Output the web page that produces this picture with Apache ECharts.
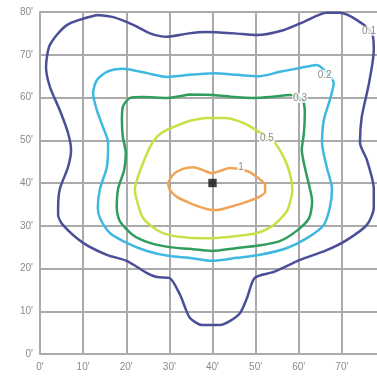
<!DOCTYPE html>
<html><head><meta charset="utf-8">
<script src="https://cdn.jsdelivr.net/npm/echarts@6/dist/echarts.min.js"></script>
<style>html,body{margin:0;padding:0;background:#fff}#c{width:377px;height:378px}</style>
</head><body><div id="c"></div>
<script>
const axisTicks = [0,10,20,30,40,50,60,70,80];
const levelNames = ['0.1','0.2','0.3','0.5','1'];
const levelColors = ['#4b4f97','#3fb8e2','#2e9d5e','#c8df48','#f0a458'];
const c01 = [[13.2,79.3],[17,78.8],[21.6,77],[25.5,75],[29.4,74.2],[34.5,75],[38.7,75.3],[45,75],[50.3,74.6],[56.6,75.8],[61.2,77.7],[66.5,79.8],[69.5,79.8],[73.5,78.1],[77,75],[77.4,71.1],[76.3,63.4],[74.6,55.4],[74.2,49.4],[75.8,45.4],[77.4,38.6],[77.4,34.2],[75.8,30.2],[71.2,26.7],[66.5,24.3],[60.3,22],[54.2,19.2],[49.8,17.8],[48,13.1],[46.4,9.6],[44,7.7],[41.7,6.8],[37.5,6.8],[34.8,8.4],[33.6,11],[32.5,13.8],[30,17.8],[27.1,18],[24.7,19],[20.1,21.8],[15.5,23.2],[10,26],[5.3,30.2],[4.2,32.5],[4.2,34.2],[4.6,38.6],[6.5,43.7],[7.2,47.7],[6.5,51.7],[4.6,57],[2.3,62.5],[1.4,67.1],[2.3,72.3],[6.3,77],[13.2,79.3]];
const c02 = [[34.5,65.3],[40.3,65.7],[45.7,65.3],[51,65],[55.6,66],[60.3,66.9],[64.2,67.6],[66.5,65.8],[68.1,63.4],[67.2,59.4],[65.8,54.7],[65.4,49.4],[66.5,43.7],[67.7,38.6],[67.2,34.2],[65.8,30.2],[61.9,27.1],[57.3,24.8],[51,23.2],[45.7,22.5],[39.9,21.8],[34.5,22.5],[30,22.9],[24.8,24.1],[20.1,26],[16.2,28.3],[13.9,31.8],[13.4,34.2],[13.9,38.6],[15.5,43.7],[15.8,49.4],[14.6,53.1],[13.2,57],[12.3,61],[13.2,64.1],[15.5,66],[19.2,66.7],[24.8,65.7],[29.4,64.8],[34.5,65.3]];
const c03 = [[34.5,60.7],[40.3,60.6],[45,60.1],[49.6,59.9],[53.3,60.1],[58,60.6],[60.8,59.5],[61.4,56.4],[61.2,51.7],[60.7,47.7],[61.4,43.7],[62.6,38.6],[63.1,35.8],[62.4,31.8],[59.5,28.8],[55.6,26.4],[50.3,25.3],[45.7,24.8],[39.9,24.1],[34.5,24.6],[30,25],[25.5,26],[21.6,27.8],[18.5,31.1],[17.8,34.2],[18.1,38.6],[19.5,43],[19.9,47],[19.2,50.8],[19,54.7],[19.2,57.8],[20.9,59.9],[23.9,60.1],[29.4,59.9],[34.5,60.7]];
const c05 = [[34.5,54.5],[38.7,55.2],[42.7,55.2],[47.3,54],[50.8,51.9],[52.8,50.6],[54.5,49.4],[56.8,45.4],[57.9,42.3],[58.5,38.6],[58.4,37.2],[57.3,33.5],[54.2,30.2],[50.3,28.3],[45.7,27.6],[39.9,27.1],[34.5,27.2],[30,27.8],[27.1,29],[23.9,31.8],[22.5,35.8],[22,38.6],[22.7,41.4],[23.9,44.7],[25.5,48.4],[27.1,50.8],[29.4,52.4],[34.5,54.5]];
const c1 = [[29.7,40],[30.8,41.9],[33.1,43.3],[35.5,43.7],[37.8,43],[39.9,42.3],[41.7,42.8],[44,43.5],[48,42.8],[50.3,41.4],[52.2,39.5],[52.2,37.9],[50.3,36.5],[47.1,35.3],[44,34.4],[41,33.7],[39.9,33.7],[37.1,34.4],[34.1,35.6],[31.8,36.7],[30.1,38.4],[29.7,40]];
const labelPos = [[76.3,75.6],[66,65.3],[60.3,59.9],[52.6,50.5],[46.6,43.7]];
const center = [[40,40]];
const contours = [c01,c02,c03,c05,c1];

const chart = echarts.init(document.getElementById('c'));
const fam = '"Liberation Sans", Arial, sans-serif';
const series = contours.map((d,i)=>({
  type:'line', data:d, smooth:0.25, symbol:'none', z:2,
  lineStyle:{color:levelColors[i], width:2.5}
}));
series.push({
  type:'scatter', data:labelPos.map((p,i)=>({value:p, name:levelNames[i]})), symbolSize:0, z:5,
  label:{show:true, position:'inside', formatter:p=>p.name, color:'#6e6e6e', fontSize:10, fontFamily:fam,
    backgroundColor:'#fff', padding:[0,1]}
});
series.push({
  type:'scatter', data:center, symbol:'rect', symbolSize:8, z:6,
  itemStyle:{color:'#111', borderColor:'#444', borderWidth:0.5}
});
chart.setOption({
  animation:false,
  backgroundColor:'#fff',
  grid:{left:40, top:12, width:345, height:342, containLabel:false, outerBoundsMode:'none'},
  xAxis:{type:'value', min:0, max:80, interval:10,
    axisLine:{show:true, lineStyle:{color:'#aaa', width:2}}, axisTick:{show:false},
    splitLine:{show:true, lineStyle:{color:'#aaa', width:2}},
    axisLabel:{formatter:v=>v+"'", color:'#8a8a8a', fontSize:10, fontFamily:fam, margin:8}},
  yAxis:{type:'value', min:0, max:80, interval:10,
    axisLine:{show:true, lineStyle:{color:'#aaa', width:2}}, axisTick:{show:false},
    splitLine:{show:true, lineStyle:{color:'#aaa', width:2}},
    axisLabel:{formatter:v=>v+"'", color:'#8a8a8a', fontSize:10, fontFamily:fam, margin:7}},
  series
});
</script></body></html>
